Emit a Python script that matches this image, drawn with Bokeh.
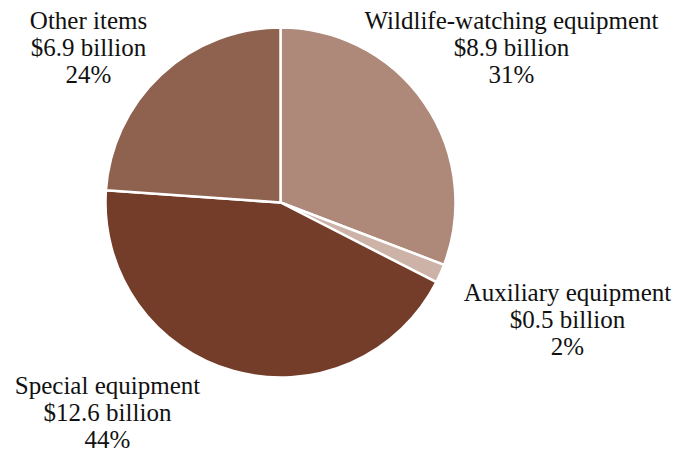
import math
from bokeh.plotting import figure
from bokeh.models import Range1d, ColumnDataSource
from bokeh.core.properties import value
from bokeh.embed import file_html
from bokeh.resources import INLINE

categories = ["Wildlife-watching equipment", "Auxiliary equipment", "Special equipment", "Other items"]
amounts = [8.9, 0.5, 12.6, 6.9]  # billion dollars
percents = [31, 2, 44, 24]
colors = ["#AE8879", "#CDB2A8", "#733D2A", "#8F6250"]

W, H = 685, 455
CX, CY, R = 280, 202, 175

# label anchor (pixel x center, pixel y of first line, from top) per category
label_pos = [(511, 20), (567, 292), (107, 385), (88, 20)]
LINE_GAP = 27

p = figure(width=W, height=H, output_backend="svg", toolbar_location=None,
           x_range=Range1d(0, W), y_range=Range1d(0, H),
           min_border=0, outline_line_color=None)
p.axis.visible = False
p.grid.visible = False
p.background_fill_color = "white"
p.border_fill_color = "white"

total = sum(amounts)
starts, ends = [], []
cum = 0.0
for a in amounts:
    starts.append(math.pi / 2 - 2 * math.pi * cum / total)
    cum += a
    ends.append(math.pi / 2 - 2 * math.pi * cum / total)

src = ColumnDataSource(dict(x=[CX] * 4, y=[H - CY] * 4, s=starts, e=ends, c=colors))
p.wedge(x="x", y="y", radius=R, radius_units="screen", start_angle="s", end_angle="e",
        direction="clock", fill_color="c", line_color="white", line_width=2.5, source=src)

tx, ty, tt = [], [], []
for i, cat in enumerate(categories):
    lx, ly = label_pos[i]
    lines = [cat, f"${amounts[i]} billion", f"{percents[i]}%"]
    for j, ln in enumerate(lines):
        tx.append(lx)
        ty.append(H - (ly + j * LINE_GAP))
        tt.append(ln)

p.text(x=tx, y=ty, text=tt, text_align="center", text_baseline="middle",
       text_font=value("'Liberation Serif', 'DejaVu Serif', serif"), text_font_size="25px",
       text_color="#111111")

open("out.html", "w").write(file_html(p, INLINE))
